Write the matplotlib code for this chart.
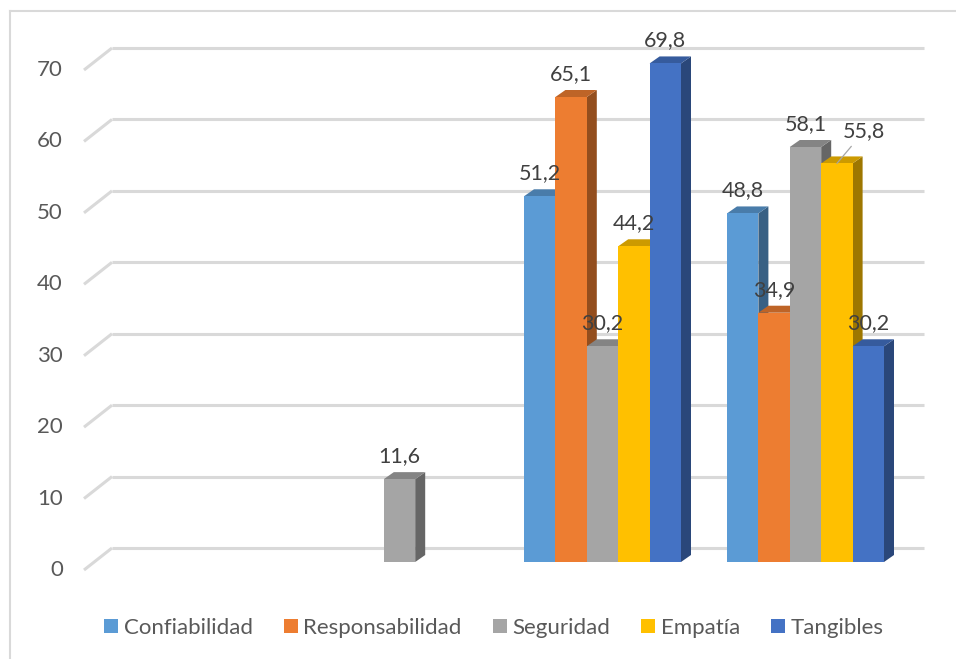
import numpy as np
import matplotlib.pyplot as plt
from matplotlib.patches import Polygon
from matplotlib.lines import Line2D

plt.rcParams['font.family'] = ['Lato', 'DejaVu Sans']

# --- data ---
series = ["Confiabilidad", "Responsabilidad", "Seguridad", "Empatía", "Tangibles"]
confiabilidad = [np.nan, np.nan, 51.2, 48.8]
responsabilidad = [np.nan, np.nan, 65.1, 34.9]
seguridad = [np.nan, 11.6, 30.2, 58.1]
empatia = [np.nan, np.nan, 44.2, 55.8]
tangibles = [np.nan, np.nan, 69.8, 30.2]
values = [confiabilidad, responsabilidad, seguridad, empatia, tangibles]
yticks = [0, 10, 20, 30, 40, 50, 60, 70]

colors = ["#5B9BD5", "#ED7D31", "#A5A5A5", "#FFC000", "#4472C4"]
grid_col = "#d9d9d9"
text_col = "#595959"
label_col = "#404040"

# --- figure / axes (axes = front plane of the columns) ---
W, H = 956, 659
fig = plt.figure(figsize=(W / 100, H / 100), dpi=100)
x0_px, x1_px = 95, 907      # left / right of the category range
y0_px, y1_px = 562, 62      # rows of value 0 and value 70
ax = fig.add_axes([x0_px / W, (H - y0_px) / H,
                   (x1_px - x0_px) / W, (y0_px - y1_px) / H])
ax.set_xlim(-0.5, 3.5)
ax.set_ylim(0, 70)
ax.axis("off")

ppx = (x1_px - x0_px) / 4.0     # pixels per category
ppy = (y0_px - y1_px) / 70.0    # pixels per value unit


def off(dx, dy):
    """pixel offset (right, up) -> data units"""
    return dx / ppx, dy / ppy


# outer chart border (left and top edges visible)
fig.add_artist(Line2D([10 / W, 10 / W], [0, 1 - 11 / H], transform=fig.transFigure,
                      color=grid_col, lw=1.5))
fig.add_artist(Line2D([10 / W, 1], [1 - 11 / H, 1 - 11 / H], transform=fig.transFigure,
                      color=grid_col, lw=1.5))

# --- back wall gridlines + side wall diagonals + tick labels ---
bx, by = off(17, 14)
fx, fy = off(-11, -8)
tx, _ = off(-21, 0)
for t in yticks:
    ax.plot([-0.5 + bx, 3.5 + bx], [t + by, t + by], color=grid_col, lw=2.2,
            solid_capstyle="butt", clip_on=False, zorder=1)
    ax.plot([-0.5 + fx, -0.5 + bx], [t + fy, t + by], color=grid_col, lw=2.2,
            solid_capstyle="butt", clip_on=False, zorder=1)
    ax.text(-0.5 + fx + tx, t + fy, str(t), ha="right", va="center",
            fontsize=16, color=text_col)

# --- 3D-looking columns ---
w = 31.4 / ppx
dx, dy = off(10, 7)
cats = np.arange(4)


def shade(c, f):
    r, g, b = plt.matplotlib.colors.to_rgb(c)
    return (r * f, g * f, b * f)


label_shift = {(3, 3): (27, 26)}   # Empatía in last group uses a leader line

for i, (name, vals, col) in enumerate(zip(series, values, colors)):
    z = 2 + i
    xs = cats + (i - 2) * w
    ax.bar(xs, vals, width=w, color=col, linewidth=0, label=name, zorder=z + 0.5,
           clip_on=False)
    for j, (x, v) in enumerate(zip(xs, vals)):
        if np.isnan(v):
            continue
        xl, xr = x - w / 2, x + w / 2
        side = Polygon([(xr, 0), (xr + dx, dy), (xr + dx, v + dy), (xr, v)],
                       closed=True, fc=shade(col, 0.62), lw=0, zorder=z, clip_on=False)
        top = Polygon([(xl, v), (xr, v), (xr + dx, v + dy), (xl + dx, v + dy)],
                      closed=True, fc=shade(col, 0.8), lw=0, zorder=z, clip_on=False)
        ax.add_patch(side)
        ax.add_patch(top)
        txt = f"{v:.1f}".replace(".", ",")
        if (i, j) in label_shift:
            sx, sy = label_shift[(i, j)]
            ax.annotate(txt, xy=(x, v), xytext=(sx, sy), textcoords="offset pixels",
                        ha="center", va="baseline", fontsize=15.5, color=label_col,
                        zorder=20,
                        arrowprops=dict(arrowstyle="-", color="#a6a6a6", lw=0.9,
                                        shrinkA=2, shrinkB=0))
        else:
            ax.annotate(txt, xy=(x, v), xytext=(0, 17), textcoords="offset pixels",
                        ha="center", va="baseline", fontsize=15.5, color=label_col,
                        zorder=20)

# --- legend ---
handles, labels = ax.get_legend_handles_labels()
fig.legend(handles, labels, loc="center", bbox_to_anchor=(494 / W, 1 - 628 / H),
           ncol=5, frameon=False, fontsize=16, labelcolor=text_col,
           handlelength=0.63, handleheight=0.63, handletextpad=0.25,
           columnspacing=1.4)

fig.savefig("out.png", dpi=100)
